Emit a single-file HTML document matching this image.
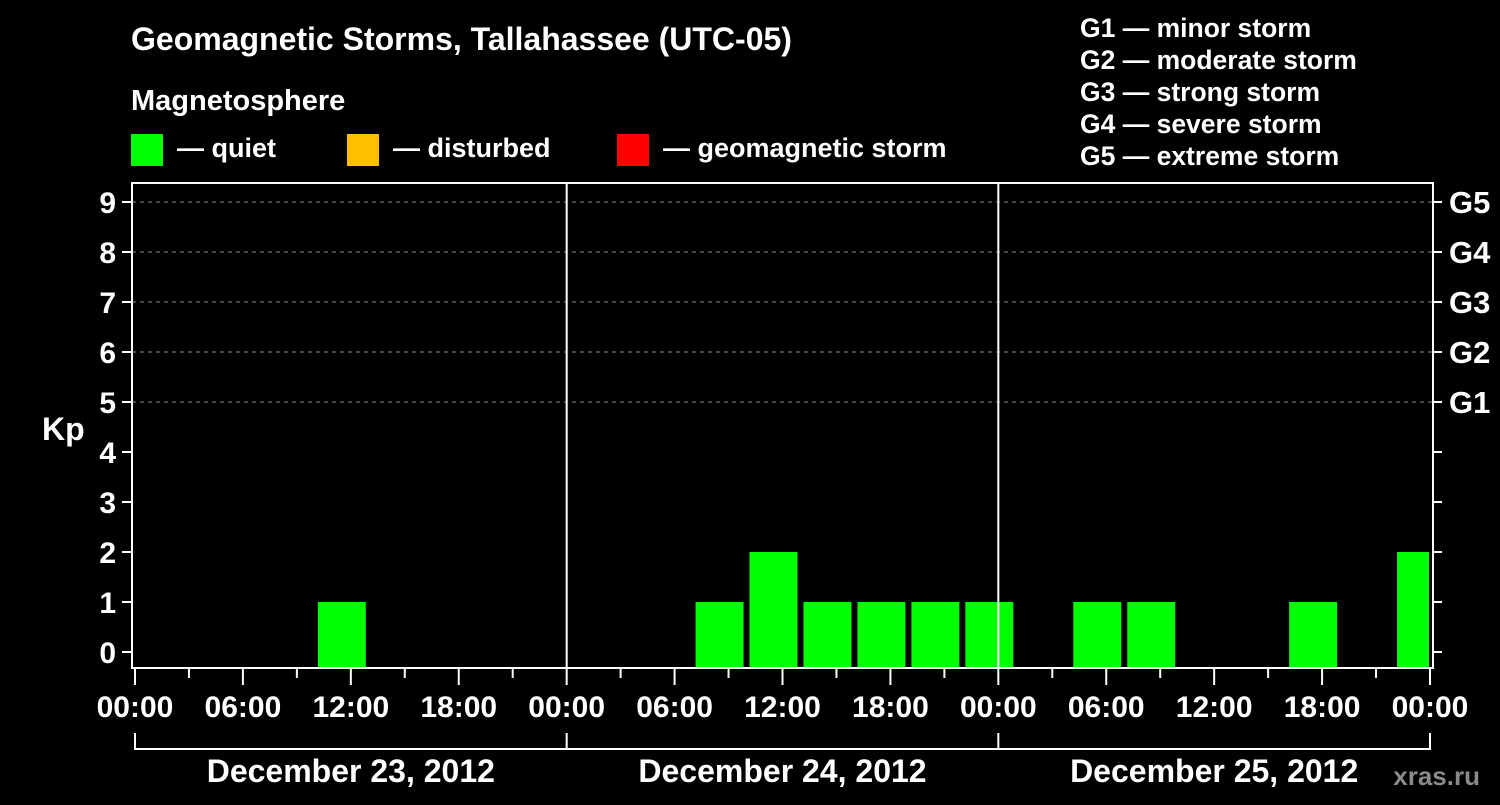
<!DOCTYPE html>
<html><head><meta charset="utf-8"><style>
body{margin:0;background:#000;width:1500px;height:800px;overflow:hidden}
svg text{font-family:"Liberation Sans",sans-serif;font-weight:bold;fill:#fff}
</style></head><body>
<svg id="c" width="1500" height="800">
<text x="131" y="50" font-size="32">Geomagnetic Storms, Tallahassee (UTC-05)</text>
<text x="131" y="110" font-size="29">Magnetosphere</text>
<rect x="131" y="134" width="32" height="32" fill="#00ff00"/>
<text x="177" y="157" font-size="27">— quiet</text>
<rect x="347" y="134" width="32" height="32" fill="#ffbf00"/>
<text x="393" y="157" font-size="27">— disturbed</text>
<rect x="617" y="134" width="32" height="32" fill="#ff0000"/>
<text x="663" y="157" font-size="27">— geomagnetic storm</text>
<g font-size="26.5">
<text x="1080" y="37">G1 — minor storm</text>
<text x="1080" y="69">G2 — moderate storm</text>
<text x="1080" y="101">G3 — strong storm</text>
<text x="1080" y="133">G4 — severe storm</text>
<text x="1080" y="165">G5 — extreme storm</text>
</g>
<text x="42" y="440" font-size="32">Kp</text>
<text x="1480" y="785" font-size="26" text-anchor="end" style="fill:#8a8a8a">xras.ru</text>
<g id="g"></g>
</svg>
<script>
const kpValues=[0,0,0,0,1,0,0,0,0,0,0,1,2,1,1,1,1,0,1,1,0,0,1,0,2];
const binStartHour=-2;
const yTicks=[0,1,2,3,4,5,6,7,8,9];
const gLabels=["G1","G2","G3","G4","G5"];
const xTickLabels=["00:00","06:00","12:00","18:00","00:00","06:00","12:00","18:00","00:00","06:00","12:00","18:00","00:00"];
const dayLabels=["December 23, 2012","December 24, 2012","December 25, 2012"];
const NS="http://www.w3.org/2000/svg";
const g=document.getElementById('g');
const X0=135,X1=1430,L=132,R=1433,T=183,B=668;
const x=h=>X0+(X1-X0)*h/72;
const y=v=>652-50*v;
function mk(t,a,p){const e=document.createElementNS(NS,t);for(const k in a)e.setAttribute(k,a[k]);(p||g).appendChild(e);return e;}
[5,6,7,8,9].forEach(v=>{const l=mk('line',{x1:L,x2:R,y1:y(v),y2:y(v),stroke:'#888','stroke-dasharray':'4,4','stroke-width':1});

});
kpValues.forEach((v,i)=>{if(v<=0)return;
const h0=binStartHour+i*3;let a=x(h0)+3,b=x(h0+3)-3;a=Math.max(a,L+1);b=Math.min(b,X1-1);
const c=v>=5?'#ff0000':v>=4?'#ffbf00':'#00ff00';
const r=mk('rect',{x:a,y:y(v),width:b-a,height:B-1-y(v),fill:c});

});
[1,2].forEach(d=>{const l=mk('line',{x1:x(d*24),x2:x(d*24),y1:T,y2:B,stroke:'#fff','stroke-width':2});

});
const f=mk('rect',{x:L,y:T,width:R-L,height:B-T,fill:'none',stroke:'#fff','stroke-width':2});


yTicks.forEach(v=>{mk('line',{x1:122,x2:L,y1:y(v),y2:y(v),stroke:'#fff','stroke-width':2});
mk('line',{x1:R,x2:1442,y1:y(v),y2:y(v),stroke:'#fff','stroke-width':2});
const t=mk('text',{x:116,y:y(v)+11,'font-size':30,'text-anchor':'end'});t.textContent=v;

});
gLabels.forEach((s,i)=>{const t=mk('text',{x:1449,y:y(5+i)+11,'font-size':31});t.textContent=s;

});
for(let h=0;h<=72;h+=3){const long=h%6===0;mk('line',{x1:x(h),x2:x(h),y1:B,y2:long?685:678,stroke:'#fff','stroke-width':2});}
xTickLabels.forEach((s,i)=>{const t=mk('text',{x:x(i*6),y:717,'font-size':30,'text-anchor':'middle'});t.textContent=s;

});
mk('line',{x1:x(0),x2:x(72),y1:749,y2:749,stroke:'#fff','stroke-width':2});
[0,24,48,72].forEach(h=>mk('line',{x1:x(h),x2:x(h),y1:733,y2:750,stroke:'#fff','stroke-width':2}));
dayLabels.forEach((s,i)=>{const t=mk('text',{x:x(i*24+12),y:782,'font-size':32,'text-anchor':'middle'});t.textContent=s;

});
</script>
</body></html>
